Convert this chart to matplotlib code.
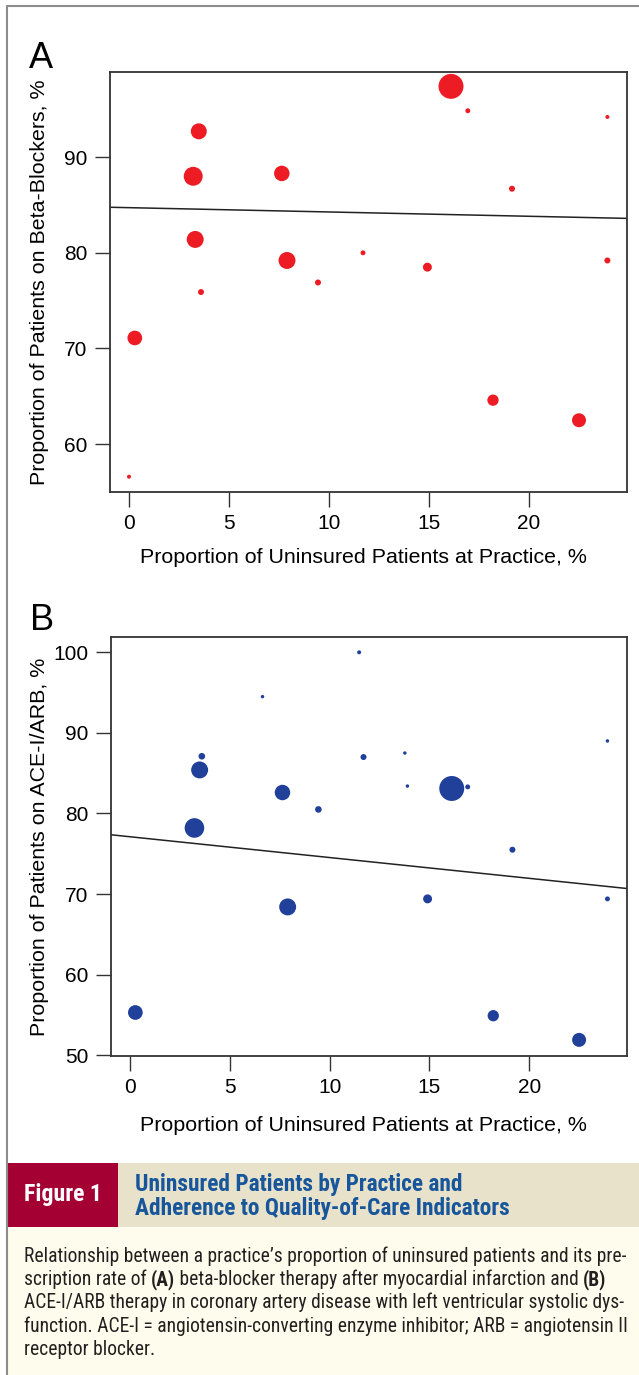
import matplotlib
matplotlib.use('Agg')
import matplotlib.pyplot as plt
from matplotlib import font_manager as fm
from matplotlib.patches import Rectangle
from matplotlib.lines import Line2D
import numpy as np

# panel A: beta-blockers
unins_a = [16.1, 16.94, 23.92, 3.49, 3.21, 7.64, 19.15, 3.31, 7.9, 11.7,
           14.92, 23.92, 9.45, 3.6, 0.29, 18.2, 22.5, 0.0]
beta_a = [97.4, 94.85, 94.2, 92.7, 88.0, 88.3, 86.7, 81.4, 79.2, 80.0,
          78.5, 79.2, 76.9, 75.9, 71.1, 64.6, 62.5, 56.6]
npat_a = [156, 6, 4, 64, 90, 60, 9, 72, 72, 6, 20, 9, 9, 9, 54, 32, 49, 4]
fit_a = (84.72, -0.045)

# panel B: ACE-I/ARB
unins_b = [11.48, 6.64, 23.92, 3.6, 11.7, 13.77, 3.49, 13.9, 16.12, 16.92,
           7.64, 9.44, 3.23, 19.16, 14.91, 23.92, 7.9, 0.27, 18.2, 22.5]
ace_b = [100.0, 94.5, 89.0, 87.1, 87.0, 87.5, 85.4, 83.4, 83.1, 83.3,
         82.6, 80.5, 78.2, 75.5, 69.4, 69.4, 68.4, 55.3, 54.9, 51.9]
npat_b = [4, 3, 3, 11, 9, 3, 72, 3, 156, 6, 60, 11, 96, 9, 20, 6, 72, 54, 32, 49]
fit_b = (77.11, -0.258)

xticks = [0, 5, 10, 15, 20]
xlab = 'Proportion of Uninsured Patients at Practice, %'

title_lines = ['Uninsured Patients by Practice and',
               'Adherence to Quality-of-Care Indicators']
# each caption line is a list of (text, bold) pieces
caption_lines = [
    [('Relationship between a practice\u2019s proportion of uninsured patients and its pre-', False)],
    [('scription rate of ', False), ('(A)', True),
     (' beta-blocker therapy after myocardial infarction and ', False), ('(B)', True)],
    [('ACE-I/ARB therapy in coronary artery disease with left ventricular systolic dys-', False)],
    [('function. ACE-I = angiotensin-converting enzyme inhibitor; ARB = angiotensin II', False)],
    [('receptor blocker.', False)],
]

W, H = 639, 1375
plt.rcParams['font.family'] = ['Liberation Sans', 'DejaVu Sans']


def pick_narrow():
    # look for an installed condensed sans face, else fall back to Liberation Sans
    ents = []
    for f in fm.fontManager.ttflist:
        low = (f.name + ' ' + f.fname).lower()
        if f.style != 'normal' or 'extra' in low or 'ultra' in low or 'mono' in low or 'serif' in low:
            continue
        if f.stretch in ('condensed', 'semi-condensed') or 'narrow' in low or 'condensed' in low:
            ents.append(f)
    prefs = ['liberation sans narrow', 'arial narrow', 'roboto condensed', 'open sans',
             'noto sans', 'dejavu sans']

    def rank(f):
        r = next((i for i, p in enumerate(prefs) if f.name.lower().startswith(p)), 99)
        return r + (0.5 if 'semi' in f.fname.lower() else 0)
    ents.sort(key=rank)
    if not ents:
        return fm.FontProperties(family='Liberation Sans'), fm.FontProperties(family='Liberation Sans', weight='bold')
    best = ents[0]
    semi = 'semi' in best.fname.lower()
    group = [f for f in ents if f.name == best.name and ('semi' in f.fname.lower()) == semi]

    def wnum(f):
        w = f.weight
        return w if isinstance(w, (int, float)) else fm.weight_dict.get(w, 400)
    reg = min(group, key=lambda f: abs(wnum(f) - 400))
    bold = min(group, key=lambda f: abs(wnum(f) - 700))
    return fm.FontProperties(fname=reg.fname), fm.FontProperties(fname=bold.fname)


fp_reg, fp_bold = pick_narrow()

fig = plt.figure(figsize=(W / 100, H / 100), dpi=100)
renderer = fig.canvas.get_renderer()


def fx(x):
    return x / W


def fy(y):
    return 1 - y / H


def sized(fp, size):
    p = fp.copy()
    p.set_size(size)
    return p


def text_w(s, fp, size):
    t1 = fig.text(0, 0, '|' + s + '|', fontproperties=sized(fp, size))
    t2 = fig.text(0, 0, '||', fontproperties=sized(fp, size))
    w = t1.get_window_extent(renderer).width - t2.get_window_extent(renderer).width
    t1.remove()
    t2.remove()
    return w


def fit_size(s, fp, target, base=14.0):
    return base * target / text_w(s, fp, base)


def panel(rect, x, y, n, fit, color, ylim, yticks, ylabel, ylab_x, xlab_y):
    ax = fig.add_axes(rect)
    ax.scatter(x, y, s=np.array(n) * 2.07, color=color, edgecolors='none', zorder=3)
    xs = np.array([-0.95, 24.9])
    ax.plot(xs, fit[0] + fit[1] * xs, color='#222222', lw=1.1, zorder=2)
    ax.set_xlim(-0.95, 24.9)
    ax.set_ylim(*ylim)
    ax.set_xticks(xticks)
    ax.set_yticks(yticks)
    ax.tick_params(length=10.6, width=1.0, labelsize=15, color='#333333')
    ax.tick_params(axis='x', pad=5)
    ax.tick_params(axis='y', pad=5.5)
    for sp in ax.spines.values():
        sp.set_color('#333333')
        sp.set_linewidth(1.3)
    ax.set_xlabel(xlab, fontsize=15.4, va='center')
    ax.xaxis.set_label_coords(0.49, xlab_y)
    ax.set_ylabel(ylabel, fontsize=15.4, va='center')
    ax.yaxis.set_label_coords(ylab_x, 0.5)
    return ax


panel([fx(110), fy(492), 517 / W, 420 / H], unins_a, beta_a, npat_a, fit_a,
      '#ED1C24', (55.0, 98.9), [60, 70, 80, 90],
      'Proportion of Patients on Beta-Blockers, %', -0.137, -0.157)
panel([fx(111), fy(1056), 516 / W, 419 / H], unins_b, ace_b, npat_b, fit_b,
      '#21409A', (49.9, 101.9), [50, 60, 70, 80, 90, 100],
      'Proportion of Patients on ACE-I/ARB, %', -0.1395, -0.165)

fig.text(fx(29), fy(67.7), 'A', fontsize=26, va='baseline', ha='left')
fig.text(fx(30), fy(630), 'B', fontsize=26, va='baseline', ha='left')

# figure caption block
fig.add_artist(Rectangle((fx(8), 0), 1 - fx(8), fy(1227), transform=fig.transFigure,
                         facecolor='#FEFCEC', edgecolor='none', zorder=0))
fig.add_artist(Rectangle((fx(8), fy(1227)), 1 - fx(8), 64 / H, transform=fig.transFigure,
                         facecolor='#E9E2CB', edgecolor='none', zorder=0))
fig.add_artist(Rectangle((fx(8), fy(1227)), fx(110), 64 / H, transform=fig.transFigure,
                         facecolor='#A50034', edgecolor='none', zorder=1))

fig_size = min(fit_size('Figure 1', fp_bold, 78), 20)
fig.text(fx(23.7), fy(1200.7), 'Figure 1', fontproperties=sized(fp_bold, fig_size),
         color='white', va='baseline')
title_size = min(fit_size(title_lines[1], fp_bold, 376), 20)
for i, line in enumerate(title_lines):
    fig.text(fx(134.7), fy(1190.7 + i * 24.3), line, fontproperties=sized(fp_bold, title_size),
             color='#17569B', va='baseline')

cap_size = min(fit_size(caption_lines[0][0][0], fp_reg, 606), 18)
for i, pieces in enumerate(caption_lines):
    x0 = 23.7
    for s, bold in pieces:
        fp = fp_bold if bold else fp_reg
        fig.text(fx(x0), fy(1261.7 + i * 23.35), s, fontproperties=sized(fp, cap_size),
                 color='#231F20', va='baseline')
        x0 += text_w(s, fp, cap_size)

# outer frame (left and top)
fig.add_artist(Line2D([fx(7), fx(7), 1], [0, fy(6), fy(6)], transform=fig.transFigure,
                      color='#8c8c8c', lw=1.5))

fig.savefig('out.png', dpi=100)
